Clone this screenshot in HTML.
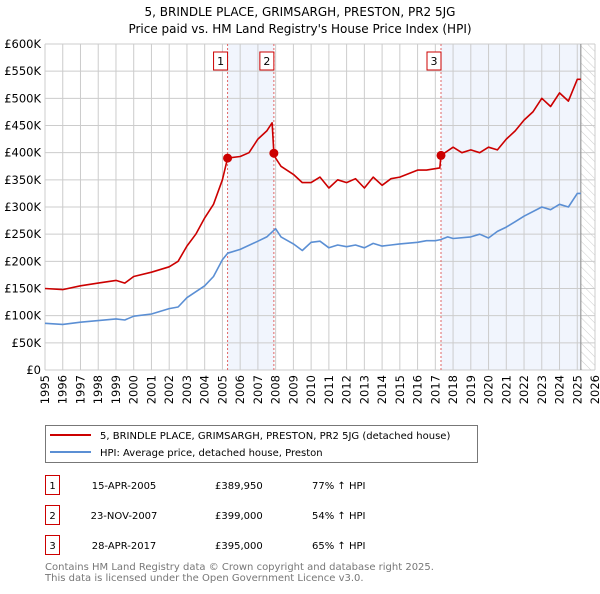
<!DOCTYPE html>
<html><head><meta charset="utf-8"><style>
body{margin:0;background:#fff;font-family:"DejaVu Sans","Liberation Sans",sans-serif;}
svg text{font-family:"DejaVu Sans","Liberation Sans",sans-serif;}
</style></head><body>
<svg id="chart" width="600" height="590" xmlns="http://www.w3.org/2000/svg"></svg>
<script>
const yTicks=[0,50,100,150,200,250,300,350,400,450,500,550,600];
const yTickLabels=["£0","£50K","£100K","£150K","£200K","£250K","£300K","£350K","£400K","£450K","£500K","£550K","£600K"];
const years=[1995,1996,1997,1998,1999,2000,2001,2002,2003,2004,2005,2006,2007,2008,2009,2010,2011,2012,2013,2014,2015,2016,2017,2018,2019,2020,2021,2022,2023,2024,2025,2026];
const hpiX=[1995,1996,1997,1998,1999,1999.5,2000,2001,2002,2002.5,2003,2004,2004.5,2005,2005.3,2006,2007,2007.5,2008,2008.3,2009,2009.5,2010,2010.5,2011,2011.5,2012,2012.5,2013,2013.5,2014,2014.5,2015,2016,2016.5,2017,2017.3,2017.7,2018,2019,2019.5,2020,2020.5,2021,2021.5,2022,2023,2023.5,2024,2024.5,2025,2025.2];
const hpiY=[86,84,88,91,94,92,99,103,113,116,133,155,172,203,215,222,237,245,260,245,232,220,235,237,225,230,227,230,225,233,228,230,232,235,238,238,240,245,242,245,250,243,255,263,273,283,300,295,305,300,325,325];
const priceX=[1995,1996,1997,1998,1999,1999.5,2000,2001,2002,2002.5,2003,2003.5,2004,2004.5,2005,2005.29,2006,2006.5,2007,2007.5,2007.8,2007.9,2008,2008.3,2009,2009.5,2010,2010.5,2011,2011.5,2012,2012.5,2013,2013.5,2014,2014.5,2015,2016,2016.5,2017.25,2017.32,2018,2018.5,2019,2019.5,2020,2020.5,2021,2021.5,2022,2022.5,2023,2023.5,2024,2024.5,2025,2025.2];
const priceY=[150,148,155,160,165,160,172,180,190,200,228,250,280,305,350,389.95,393,400,425,440,455,399,390,375,360,345,345,355,335,350,345,352,335,355,340,352,355,368,368,372,395,410,400,405,400,410,405,425,440,460,475,500,485,510,495,535,535];
const saleX=[2005.29,2007.9,2017.32];
const saleY=[389.95,399,395];
const saleLabels=["1","2","3"];
const dataEnd=2025.2;
const tDates=["15-APR-2005","23-NOV-2007","28-APR-2017"];
const tPrices=["£389,950","£399,000","£395,000"];
const tPct=["77% ↑ HPI","54% ↑ HPI","65% ↑ HPI"];

const NS="http://www.w3.org/2000/svg";
const svg=document.getElementById('chart');
const L=45,R=595,T=44,B=370;
const xs=v=>L+(v-1995)*(R-L)/31;
const ys=v=>B-v*(B-T)/600;
function mk(tag,attrs,parent){const e=document.createElementNS(NS,tag);for(const k in attrs)e.setAttribute(k,attrs[k]);(parent||svg).appendChild(e);return e;}
function txt(s,attrs,parent){const e=mk('text',attrs,parent);e.textContent=s;return e;}

let t=txt("5, BRINDLE PLACE, GRIMSARGH, PRESTON, PR2 5JG",{x:300,y:16,'text-anchor':'middle','font-size':12,fill:'#000'});

t=txt("Price paid vs. HM Land Registry's House Price Index (HPI)",{x:300,y:33,'text-anchor':'middle','font-size':12,fill:'#000'});


// shading
let s=mk('rect',{x:xs(saleX[0]),y:T,width:xs(saleX[1])-xs(saleX[0]),height:B-T,fill:'#eef3fc',opacity:0.8});

s=mk('rect',{x:xs(saleX[2]),y:T,width:xs(dataEnd)-xs(saleX[2]),height:B-T,fill:'#eef3fc',opacity:0.8});

// hatch
const defs=mk('defs',{});
const pat=mk('pattern',{id:'hatch',patternUnits:'userSpaceOnUse',width:6,height:6,patternTransform:'rotate(-45)'},defs);
mk('line',{x1:0,y1:0,x2:0,y2:6,stroke:'#ccc','stroke-width':1},pat);
s=mk('rect',{x:xs(dataEnd),y:T,width:R-xs(dataEnd),height:B-T,fill:'url(#hatch)'});


// grid
yTicks.forEach((v,i)=>{
 const g=mk('line',{x1:L,x2:R,y1:ys(v),y2:ys(v),stroke:'#ccc','stroke-width':1});
 
 const tl=txt(yTickLabels[i],{x:L-4,y:ys(v)+4,'text-anchor':'end','font-size':11.5,fill:'#000'});
 
});
years.forEach(y=>{
 const g=mk('line',{x1:xs(y),x2:xs(y),y1:T,y2:B,stroke:'#ccc','stroke-width':1});
 
 const tl=txt(String(y),{x:0,y:0,'text-anchor':'end','font-size':11.5,fill:'#000',transform:`translate(${xs(y)+4},${B+5}) rotate(-90)`});
 
});
s=mk('line',{x1:xs(dataEnd),x2:xs(dataEnd),y1:T,y2:B,stroke:'#999','stroke-width':1.2});


// sale vlines & labels
saleX.forEach((x,i)=>{
 const l=mk('line',{x1:xs(x),x2:xs(x),y1:T,y2:B,stroke:'#e06666','stroke-width':1,'stroke-dasharray':'2,2'});
 
 const b=mk('rect',{x:xs(x)-14,y:52,width:14,height:18,fill:'#fff',stroke:'#c00','stroke-width':1});
 
 const tl=txt(saleLabels[i],{x:xs(x)-7,y:65,'text-anchor':'middle','font-size':11,fill:'#000'});
 
});

function line(X,Y,color,name){
 const d=X.map((x,i)=>(i?'L':'M')+xs(x).toFixed(1)+','+ys(Y[i]).toFixed(1)).join('');
 const p=mk('path',{d:d,fill:'none',stroke:color,'stroke-width':1.6,'stroke-linejoin':'round'});
 
}
line(hpiX,hpiY,'#5b8fd4','hpi-line');
line(priceX,priceY,'#cc0000','price-line');
saleX.forEach((x,i)=>{
 const c=mk('circle',{cx:xs(x),cy:ys(saleY[i]),r:4.5,fill:'#cc0000'});
 
});

// legend
const lg=mk('g',{});

mk('rect',{x:45.5,y:425.5,width:432,height:37,fill:'#fff',stroke:'#777','stroke-width':1},lg);
mk('line',{x1:50,x2:91,y1:435,y2:435,stroke:'#cc0000','stroke-width':2},lg);
mk('line',{x1:50,x2:91,y1:452,y2:452,stroke:'#5b8fd4','stroke-width':2},lg);
t=txt("5, BRINDLE PLACE, GRIMSARGH, PRESTON, PR2 5JG (detached house)",{x:100,y:439,'font-size':10,fill:'#000'},lg);

t=txt("HPI: Average price, detached house, Preston",{x:100,y:456,'font-size':10,fill:'#000'},lg);


// table
const rowY=[485,515,545];
rowY.forEach((y,i)=>{
 const b=mk('rect',{x:45.5,y:y-9.5,width:14,height:19,fill:'#fff',stroke:'#c00','stroke-width':1});
 
 let e=txt(saleLabels[i],{x:52.5,y:y+4,'text-anchor':'middle','font-size':10,fill:'#000'});
 
 e=txt(tDates[i],{x:124,y:y+4,'text-anchor':'middle','font-size':10,fill:'#000'});
 
 e=txt(tPrices[i],{x:215,y:y+4,'font-size':10,fill:'#000'});
 
 e=txt(tPct[i],{x:312,y:y+4,'font-size':10,fill:'#000'});
 
});
t=txt("Contains HM Land Registry data © Crown copyright and database right 2025.",{x:45,y:570,'font-size':10,fill:'#777'});

t=txt("This data is licensed under the Open Government Licence v3.0.",{x:45,y:581,'font-size':10,fill:'#777'});

</script>
</body></html>
